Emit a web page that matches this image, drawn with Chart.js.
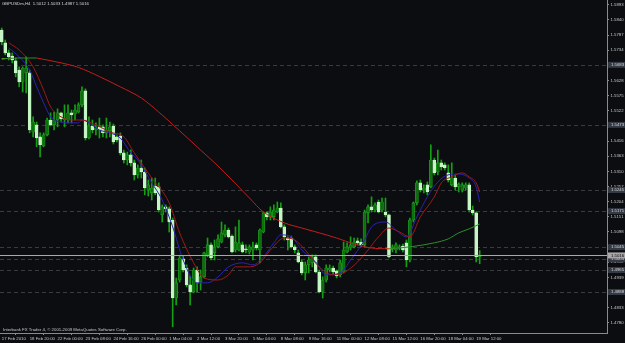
<!DOCTYPE html>
<html>
<head>
<meta charset="utf-8">
<script src="https://cdn.jsdelivr.net/npm/chart.js@4.4.1/dist/chart.umd.min.js"></script>
<style>
  html, body { margin: 0; padding: 0; background: #0c0d10; }
  #wrap { width: 625px; height: 343px; position: relative; }
</style>
</head>
<body>
<div id="wrap"><canvas id="chart"></canvas></div>
<script>
const TITLE = 'GBPUSDm,H4  1.5012 1.5033 1.4987 1.5016';
const COPYRIGHT = 'Interbank FX Trader 4, \u00a9 2001-2009 MetaQuotes Software Corp.';

// time axis labels, one every 8 H4 bars
const timeLabels = ['17 Feb 2010', '18 Feb 20:00', '22 Feb 00:00', '23 Feb 08:00', '24 Feb 16:00',
  '26 Feb 00:00', '1 Mar 04:00', '2 Mar 12:00', '3 Mar 20:00', '5 Mar 04:00', '8 Mar 08:00',
  '9 Mar 16:00', '11 Mar 00:00', '12 Mar 08:00', '15 Mar 12:00', '16 Mar 20:00', '18 Mar 04:00',
  '19 Mar 12:00'];

// price scale labels
const priceTicks = [1.5893, 1.5840, 1.5787, 1.5734, 1.5681, 1.5628, 1.5575, 1.5522, 1.5469, 1.5416,
  1.5363, 1.5310, 1.5257, 1.5204, 1.5151, 1.5098, 1.5045, 1.4992, 1.4939, 1.4886, 1.4833, 1.4780];

// H4 candles, oldest first
const opens = [1.5805,1.5760,1.5725,1.5714,1.5697,1.5665,1.5623,1.5655,1.5655,1.5448,
  1.5473,1.5431,1.5399,1.5438,1.5490,1.5473,1.5490,1.5515,1.5490,1.5490,
  1.5515,1.5511,1.5518,1.5543,1.5592,1.5427,1.5469,1.5455,1.5466,1.5466,
  1.5445,1.5452,1.5469,1.5431,1.5434,1.5375,1.5350,1.5368,1.5340,1.5298,
  1.5322,1.5308,1.5245,1.5235,1.5259,1.5256,1.5158,1.5186,1.5179,1.5140,
  1.4867,1.4930,1.5004,1.4972,1.4913,1.4888,1.4965,1.4923,1.4941,1.5018,
  1.5053,1.5025,1.5046,1.5063,1.5088,1.5105,1.5084,1.5035,1.5035,1.5053,
  1.5039,1.5028,1.5035,1.5053,1.5035,1.5098,1.5165,1.5151,1.5151,1.5168,
  1.5182,1.5116,1.5077,1.5077,1.5046,1.5025,1.4993,1.4955,1.4983,1.4990,
  1.5011,1.4958,1.4888,1.4930,1.4965,1.4972,1.4962,1.4948,1.4958,1.5028,
  1.5042,1.5046,1.5067,1.5063,1.5053,1.5165,1.5186,1.5175,1.5203,1.5175,
  1.5168,1.5158,1.5039,1.5035,1.5042,1.5049,1.5060,1.5000,1.5140,1.5200,
  1.5270,1.5245,1.5263,1.5256,1.5350,1.5308,1.5340,1.5333,1.5305,1.5263,
  1.5287,1.5256,1.5245,1.5252,1.5263,1.5175,1.5165,1.5012];
const highs = [1.5812,1.5770,1.5735,1.5725,1.5707,1.5676,1.5676,1.5711,1.5665,1.5501,
  1.5483,1.5445,1.5445,1.5497,1.5515,1.5518,1.5529,1.5518,1.5543,1.5543,
  1.5525,1.5543,1.5550,1.5606,1.5599,1.5501,1.5490,1.5480,1.5497,1.5473,
  1.5497,1.5483,1.5476,1.5438,1.5445,1.5385,1.5378,1.5385,1.5350,1.5333,
  1.5350,1.5322,1.5280,1.5287,1.5287,1.5270,1.5193,1.5193,1.5186,1.5147,
  1.4937,1.5014,1.5014,1.4983,1.4944,1.4972,1.4976,1.4965,1.5028,1.5077,
  1.5060,1.5070,1.5088,1.5133,1.5123,1.5112,1.5088,1.5116,1.5140,1.5063,
  1.5053,1.5053,1.5063,1.5060,1.5109,1.5168,1.5168,1.5186,1.5193,1.5203,
  1.5200,1.5123,1.5081,1.5084,1.5053,1.5035,1.5000,1.4993,1.5011,1.5018,
  1.5018,1.4965,1.4941,1.4983,1.4983,1.4979,1.4965,1.5000,1.5063,1.5060,
  1.5081,1.5077,1.5077,1.5074,1.5175,1.5193,1.5221,1.5200,1.5210,1.5217,
  1.5217,1.5161,1.5053,1.5060,1.5053,1.5056,1.5070,1.5147,1.5203,1.5277,
  1.5280,1.5263,1.5273,1.5403,1.5357,1.5385,1.5350,1.5340,1.5333,1.5340,
  1.5298,1.5270,1.5270,1.5270,1.5270,1.5189,1.5168,1.5033];
const lows = [1.5753,1.5718,1.5700,1.5690,1.5641,1.5606,1.5588,1.5585,1.5445,1.5431,
  1.5396,1.5361,1.5396,1.5434,1.5469,1.5455,1.5466,1.5483,1.5466,1.5480,
  1.5480,1.5490,1.5515,1.5536,1.5420,1.5424,1.5445,1.5438,1.5427,1.5431,
  1.5427,1.5431,1.5406,1.5413,1.5368,1.5340,1.5333,1.5329,1.5280,1.5287,
  1.5287,1.5228,1.5224,1.5210,1.5228,1.5168,1.5133,1.5168,1.5098,1.4766,
  1.4843,1.4923,1.4958,1.4906,1.4843,1.4885,1.4888,1.4895,1.4937,1.5011,
  1.5000,1.5000,1.5042,1.5060,1.5081,1.5077,1.5025,1.5028,1.5032,1.5025,
  1.5025,1.5021,1.5000,1.5035,1.4990,1.5095,1.5140,1.5140,1.5140,1.5165,
  1.5112,1.5070,1.5035,1.5042,1.5025,1.4990,1.4948,1.4930,1.4955,1.4976,
  1.4955,1.4885,1.4867,1.4923,1.4958,1.4951,1.4937,1.4941,1.4955,1.5025,
  1.5035,1.5042,1.5053,1.5046,1.5046,1.5130,1.5168,1.5168,1.5165,1.5168,
  1.5151,1.5007,1.5028,1.5025,1.5035,1.5028,1.4976,1.4993,1.5133,1.5193,
  1.5238,1.5235,1.5228,1.5252,1.5298,1.5298,1.5315,1.5315,1.5273,1.5259,
  1.5245,1.5238,1.5238,1.5245,1.5168,1.5158,1.4993,1.4987];
const closes = [1.5763,1.5725,1.5711,1.5700,1.5655,1.5623,1.5672,1.5672,1.5455,1.5483,
  1.5427,1.5403,1.5438,1.5490,1.5473,1.5490,1.5515,1.5494,1.5497,1.5515,
  1.5508,1.5525,1.5543,1.5592,1.5427,1.5469,1.5455,1.5462,1.5455,1.5445,
  1.5455,1.5466,1.5413,1.5420,1.5375,1.5350,1.5368,1.5340,1.5298,1.5322,
  1.5308,1.5252,1.5263,1.5252,1.5235,1.5175,1.5186,1.5179,1.5133,1.4867,
  1.4920,1.5007,1.4965,1.4913,1.4888,1.4965,1.4920,1.4941,1.5025,1.5053,
  1.5007,1.5046,1.5074,1.5095,1.5105,1.5081,1.5028,1.5063,1.5060,1.5028,
  1.5035,1.5046,1.5046,1.5042,1.5105,1.5165,1.5151,1.5168,1.5175,1.5182,
  1.5116,1.5081,1.5070,1.5046,1.5035,1.4993,1.4955,1.4983,1.5000,1.5011,
  1.4958,1.4888,1.4930,1.4972,1.4972,1.4958,1.4944,1.4990,1.5035,1.5046,
  1.5053,1.5063,1.5060,1.5053,1.5168,1.5186,1.5175,1.5193,1.5168,1.5203,
  1.5158,1.5011,1.5046,1.5053,1.5046,1.5035,1.5000,1.5140,1.5200,1.5270,
  1.5245,1.5252,1.5238,1.5350,1.5305,1.5340,1.5326,1.5322,1.5280,1.5287,
  1.5256,1.5266,1.5263,1.5263,1.5175,1.5165,1.5011,1.5016];

const fastBlueBars = [2,5,8,10,12,14,17,19,22,23,25,28,31,34,37,39,43,46,49,52,56,59,62,65,69,72,75,78,80,83,
  86,90,93,97,100,104,106,110,113,116,119,122,125,128,131,134,136,137];
const fastBlueVals = [1.5742,1.5711,1.5665,1.5606,1.5550,1.5501,1.5483,1.5480,1.5480,1.5490,
  1.5480,1.5455,1.5445,1.5427,1.5375,1.5350,1.5270,1.5210,1.5116,1.5000,
  1.4920,1.4920,1.4941,1.4976,1.4990,1.4983,1.5011,1.5060,1.5088,1.5081,
  1.5035,1.4993,1.4948,1.4955,1.5000,1.5070,1.5116,1.5133,1.5105,1.5081,
  1.5151,1.5221,1.5273,1.5298,1.5301,1.5287,1.5256,1.5203];
const fastRedBars = [2,5,9,12,14,17,20,23,27,31,35,38,43,48,51,55,58,62,65,67,71,74,77,81,84,87,91,95,98,102,
  105,108,111,114,117,120,124,126,129,132,134,136,137];
const fastRedVals = [1.5760,1.5735,1.5676,1.5595,1.5536,1.5501,1.5490,1.5490,1.5473,1.5448,
  1.5431,1.5375,1.5287,1.5200,1.5095,1.4990,1.4937,1.4930,1.4948,1.4976,
  1.4976,1.4990,1.5035,1.5077,1.5070,1.5035,1.4976,1.4948,1.4955,1.4993,
  1.5035,1.5081,1.5112,1.5098,1.5081,1.5151,1.5221,1.5270,1.5291,1.5305,
  1.5291,1.5270,1.5238];
const slowDownBars = [10,17,22,28,34,40,45,51,57,62,66,71,75,81,86,91,96,101,106,111];
const slowDownVals = [1.5707,1.5690,1.5674,1.5642,1.5606,1.5567,1.5518,1.5452,1.5385,1.5329,
  1.5280,1.5217,1.5168,1.5130,1.5112,1.5095,1.5077,1.5056,1.5042,1.5039];
const slowUpBarsA = [0,5,10];
const slowUpValsA = [1.5704,1.5707,1.5707];
const slowUpBarsB = [111,117,124,128,131,134,137];
const slowUpValsB = [1.5039,1.5046,1.5060,1.5074,1.5095,1.5109,1.5126];
const turnBarsA = [0,1];
const turnValsA = [1.5704,1.5705];
const turnBarsB = [110,112];
const turnValsB = [1.5040,1.5039];

// horizontal lines on the chart and the bid
const levelPrices = [1.5683, 1.5473, 1.5245, 1.5171, 1.5045, 1.5003, 1.4965, 1.4888];
const bidPrice = 1.5016;

const N_SLOTS = 174;      // bar slots across the plot incl. the empty shift on the right
const LABEL_EVERY = 8;
const Y_MIN = 1.47445, Y_MAX = 1.5910;

const FONT = { family: 'Liberation Sans', size: 4.3 };
const TEXT = '#c8c8c8';
const AXIS = '#8a8a8a';

const pts = (bars, vals) => bars.map((b, i) => ({ x: b, y: vals[i] }));
const maLine = (data, color) => ({
  type: 'line', data, borderColor: color, borderWidth: 1, pointRadius: 0,
  cubicInterpolationMode: 'monotone', order: 0
});

// background, dashed levels, bid line, price boxes and texts
const mtPlugin = {
  id: 'mt',
  beforeDraw(chart) {
    const { ctx, width, height } = chart;
    ctx.save();
    ctx.fillStyle = '#0c0d10';
    ctx.fillRect(0, 0, width, height);
    ctx.restore();
  },
  beforeDatasetsDraw(chart) {
    const { ctx, chartArea, scales: { y } } = chart;
    ctx.save();
    ctx.strokeStyle = '#3a3b3e';
    ctx.lineWidth = 1;
    ctx.setLineDash([4, 3]);
    levelPrices.forEach(p => {
      const py = Math.round(y.getPixelForValue(p)) + 0.5;
      ctx.beginPath();
      ctx.moveTo(chartArea.left, py);
      ctx.lineTo(chartArea.right, py);
      ctx.stroke();
    });
    ctx.restore();
  },
  afterDatasetsDraw(chart) {
    const { ctx, chartArea, scales: { y } } = chart;
    const py = Math.round(y.getPixelForValue(bidPrice)) + 0.5;
    ctx.save();
    ctx.strokeStyle = '#a8a8a8';
    ctx.lineWidth = 1;
    ctx.beginPath();
    ctx.moveTo(chartArea.left, py);
    ctx.lineTo(chartArea.right, py);
    ctx.stroke();
    ctx.restore();
  },
  afterDraw(chart) {
    const { ctx, chartArea, scales: { y } } = chart;
    ctx.save();
    ctx.font = `${FONT.size}px ${FONT.family}`;
    ctx.textBaseline = 'middle';
    const box = (p, bg, fg) => {
      const py = y.getPixelForValue(p);
      ctx.fillStyle = bg;
      ctx.fillRect(chartArea.right + 1, py - 3, 17, 6);
      ctx.fillStyle = fg;
      ctx.fillText(p.toFixed(4), chartArea.right + 4, py);
    };
    levelPrices.forEach(p => box(p, '#343a44', '#dcdcdc'));
    box(bidPrice, '#a8a8a8', '#000000');

    ctx.fillStyle = '#d8d8d8';
    ctx.textBaseline = 'top';
    ctx.fillText(TITLE, 2, 2);
    ctx.fillStyle = TEXT;
    ctx.textBaseline = 'bottom';
    ctx.fillText(COPYRIGHT, 3, chartArea.bottom - 1);
    ctx.restore();
  }
};

new Chart(document.getElementById('chart'), {
  type: 'bar',
  data: {
    datasets: [
      maLine(pts(slowUpBarsA, slowUpValsA), '#2c8c2c'),
      maLine(pts(slowDownBars, slowDownVals), '#c41c1c'),
      maLine(pts(slowUpBarsB, slowUpValsB), '#2c8c2c'),
      maLine(pts(turnBarsA, turnValsA), '#e6d21e'),
      maLine(pts(turnBarsB, turnValsB), '#e6d21e'),
      maLine(pts(fastRedBars, fastRedVals), '#9c1a1a'),
      maLine(pts(fastBlueBars, fastBlueVals), '#2b23b0'),
      {
        type: 'bar',
        data: opens.map((o, i) => ({ x: i, y: [o, closes[i]] })),
        backgroundColor: c => closes[c.dataIndex] >= opens[c.dataIndex] ? '#0e6e0e' : '#c6f6c6',
        borderColor: c => closes[c.dataIndex] >= opens[c.dataIndex] ? '#22a822' : '#c6f6c6',
        borderWidth: 0.6,
        borderSkipped: false,
        barThickness: 3,
        minBarLength: 1,
        grouped: false,
        order: 1
      },
      {
        type: 'bar',
        data: lows.map((l, i) => ({ x: i, y: [l, highs[i]] })),
        backgroundColor: '#14a014',
        barThickness: 1,
        grouped: false,
        order: 2
      }
    ]
  },
  options: {
    responsive: true,
    maintainAspectRatio: false,
    animation: false,
    events: [],
    layout: { padding: 0 },
    plugins: { legend: { display: false }, tooltip: { enabled: false } },
    scales: {
      x: {
        type: 'linear',
        min: -0.5,
        max: N_SLOTS - 0.5,
        offset: false,
        afterBuildTicks: axis => {
          axis.ticks = timeLabels.map((_, k) => ({ value: k * LABEL_EVERY }));
        },
        afterFit: axis => {
          axis.height = 10;
          axis.paddingLeft = 0;
          axis.paddingRight = 0;
        },
        ticks: {
          autoSkip: false,
          maxRotation: 0,
          align: 'start',
          padding: 1,
          font: FONT,
          color: TEXT,
          callback: (v, i) => timeLabels[i]
        },
        grid: { drawOnChartArea: false, tickLength: 2, color: AXIS },
        border: { display: true, color: AXIS }
      },
      y: {
        position: 'right',
        min: Y_MIN,
        max: Y_MAX,
        afterBuildTicks: axis => {
          axis.ticks = priceTicks.map(v => ({ value: v }));
        },
        afterFit: axis => {
          axis.width = 18;
          axis.paddingTop = 0;
          axis.paddingBottom = 0;
        },
        ticks: {
          padding: 1.5,
          font: FONT,
          color: TEXT,
          callback: v => v.toFixed(4)
        },
        grid: { drawOnChartArea: false, tickLength: 2, color: AXIS },
        border: { display: true, color: AXIS }
      }
    }
  },
  plugins: [mtPlugin]
});
</script>
</body>
</html>
